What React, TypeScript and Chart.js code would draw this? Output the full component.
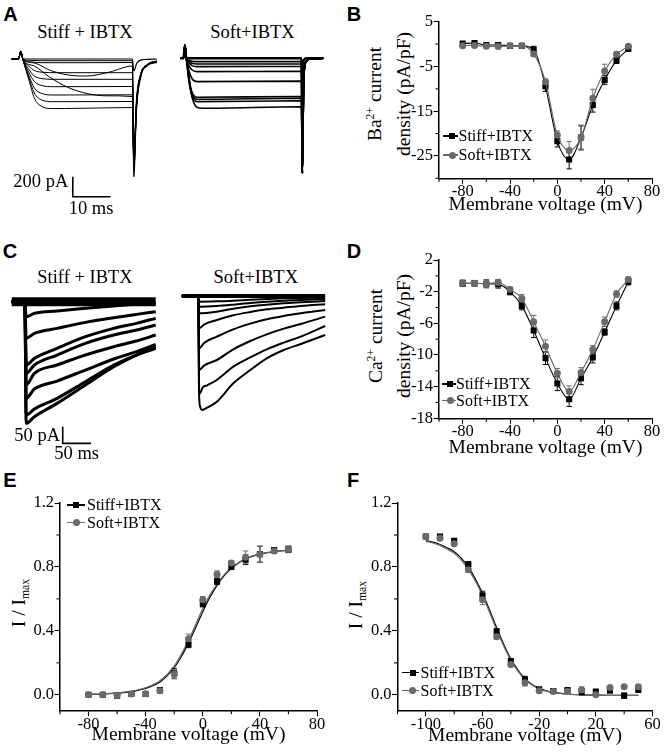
import React, { useEffect, useRef } from "react";
import { Chart, registerables } from "chart.js";
Chart.register(...registerables);

const SERIF = '"Liberation Serif", "Times New Roman", Times, serif';
const SANS = '"Liberation Sans", Arial, Helvetica, sans-serif';
const GRAY = "#6a6a6a";

// ---------------- DATA ----------------
// Panel B: Ba2+ current density (pA/pF)
const ivVoltage = [-80, -70, -60, -50, -40, -30, -20, -10, 0, 10, 20, 30, 40, 50, 60];
const baStiff = [0.1, 0.25, -0.2, -0.2, -0.4, -0.4, -1.2, -9.5, -21.7, -25.8, -20.9, -13.6, -8.0, -3.7, -1.1];
const baStiffErr = [0.3, 0.3, 0.3, 0.3, 0.3, 0.3, 0.7, 1.1, 1.3, 2.1, 2.6, 1.6, 1.0, 0.6, 0.4];
const baSoft = [-0.35, -0.3, -0.5, -0.55, -0.4, -0.4, -2.2, -8.4, -20.3, -23.8, -20.9, -12.1, -6.0, -2.3, -0.5];
const baSoftErr = [0.3, 0.3, 0.3, 0.3, 0.3, 0.3, 0.5, 0.6, 0.9, 2.0, 2.8, 2.0, 1.5, 0.6, 0.4];

// Panel D: Ca2+ current density (pA/pF)
const caStiff = [-0.95, -0.95, -1.0, -1.05, -2.0, -3.8, -6.9, -10.4, -13.6, -15.6, -12.95, -10.3, -7.1, -3.8, -0.75];
const caStiffErr = [0.4, 0.3, 0.5, 0.5, 0.4, 0.5, 0.9, 0.8, 0.9, 0.9, 0.8, 0.7, 0.4, 0.5, 0.4];
const caSoft = [-0.95, -0.95, -1.0, -0.85, -1.7, -2.85, -5.8, -8.9, -12.3, -14.6, -12.2, -9.3, -5.8, -2.3, -0.45];
const caSoftErr = [0.4, 0.3, 0.5, 0.4, 0.3, 0.5, 0.8, 0.8, 0.6, 0.7, 0.6, 0.5, 0.6, 0.4, 0.3];

// Panel E: activation I/Imax
const actStiff = [0.0, 0.0, -0.005, 0.005, 0.005, 0.03, 0.135, 0.315, 0.57, 0.71, 0.8, 0.845, 0.88, 0.905, 0.91];
const actStiffErr = [0.008, 0.008, 0.008, 0.01, 0.01, 0.015, 0.03, 0.02, 0.02, 0.02, 0.015, 0.03, 0.05, 0.015, 0.02];
const actSoft = [0.0, 0.0, -0.003, 0.005, 0.006, 0.025, 0.13, 0.35, 0.595, 0.755, 0.825, 0.86, 0.88, 0.9, 0.91];
const actSoftErr = [0.008, 0.008, 0.008, 0.01, 0.01, 0.015, 0.03, 0.03, 0.02, 0.02, 0.015, 0.04, 0.05, 0.015, 0.02];
const actFitV = [-80, -70, -60, -50, -40, -30, -20, -15, -10, -5, 0, 5, 10, 15, 20, 25, 30, 40, 50, 60];
const actFitStiff = [0.002, 0.005, 0.01, 0.02, 0.04, 0.08, 0.17, 0.24, 0.325, 0.42, 0.52, 0.61, 0.685, 0.745, 0.79, 0.825, 0.85, 0.88, 0.895, 0.905];
const actFitSoft = [0.003, 0.006, 0.012, 0.023, 0.045, 0.088, 0.18, 0.255, 0.34, 0.44, 0.54, 0.625, 0.695, 0.752, 0.795, 0.828, 0.853, 0.882, 0.896, 0.905];

// Panel F: steady-state inactivation I/Imax
const inactVoltage = [-100, -90, -80, -70, -60, -50, -40, -30, -20, -10, 0, 10, 20, 30, 40, 50];
const inactStiff = [0.99, 0.99, 0.963, 0.817, 0.623, 0.397, 0.211, 0.096, 0.035, 0.024, 0.03, 0.02, 0.02, 0.025, -0.005, 0.03];
const inactStiffErr = [0.01, 0.01, 0.01, 0.015, 0.025, 0.015, 0.015, 0.02, 0.01, 0.01, 0.01, 0.02, 0.01, 0.01, 0.015, 0.01];
const inactSoft = [0.99, 0.98, 0.945, 0.782, 0.594, 0.364, 0.19, 0.075, 0.025, 0.02, 0.02, 0.03, 0.0, 0.045, 0.05, 0.05];
const inactSoftErr = [0.01, 0.01, 0.01, 0.015, 0.03, 0.015, 0.015, 0.02, 0.01, 0.01, 0.01, 0.02, 0.01, 0.01, 0.01, 0.01];
const inactFitV = [-100, -95, -90, -85, -80, -75, -70, -65, -60, -55, -50, -45, -40, -35, -30, -25, -20, -15, -10, 0, 10, 20, 30, 40, 50];
const inactFitStiff = [0.965, 0.955, 0.94, 0.92, 0.895, 0.855, 0.8, 0.725, 0.635, 0.53, 0.42, 0.315, 0.225, 0.155, 0.1, 0.065, 0.04, 0.025, 0.015, 0.005, 0.0, -0.002, -0.003, -0.003, -0.003];
const inactFitSoft = [0.96, 0.95, 0.935, 0.912, 0.885, 0.843, 0.785, 0.71, 0.62, 0.515, 0.405, 0.305, 0.215, 0.148, 0.095, 0.062, 0.037, 0.023, 0.013, 0.004, 0.0, -0.002, -0.003, -0.003, -0.003];

// Axis ticks
const ivXTicks = [-80, -40, 0, 40, 80];
const ivXMinor = [-100, -60, -20, 20, 60];
const baYTicks = [5, -5, -15, -25];
const baYMinor = [0, -10, -20, -30];
const caYTicks = [2, -2, -6, -10, -14, -18];
const caYMinor = [0, -4, -8, -12, -16];
const normYTicks = [0, 0.4, 0.8, 1.2];
const normYMinor = [0.2, 0.6, 1.0];
const inactXTicks = [-100, -60, -20, 20, 60];
const inactXMinor = [-120, -80, -40, 0, 40];

// Current traces: [time ms, current pA]
const baTraceStiff = [
  [[0, 0], [1.8, 0], [2.4, 75], [3, 0], [32, 0], [32.4, -120], [33.2, -40], [35, -5], [38.5, 0]],
  [[0, 0], [1.8, 0], [2.4, 75], [3, -4], [5, -14], [8, -17], [32, -17], [32.4, -1100], [33.1, -480], [34.2, -170], [36, -60], [38.5, -20]],
  [[0, 0], [1.8, 0], [2.4, 75], [3, -5], [5, -28], [8, -37], [20, -37], [32, -35], [32.4, -1050], [33.1, -450], [34.2, -160], [36, -55], [38.5, -25]],
  [[0, 0], [1.8, 0], [2.4, 75], [3, -5], [6, -40], [10, -110], [15, -160], [20, -170], [26, -130], [32, -70], [32.4, -900], [33.1, -400], [34.2, -150], [36, -60], [38.5, -30]],
  [[0, 0], [1.8, 0], [2.4, 75], [3, -8], [4.5, -70], [6, -115], [8, -132], [12, -137], [32, -137], [32.4, -1000], [33.1, -440], [34.2, -160], [36, -60], [38.5, -25]],
  [[0, 0], [1.8, 0], [2.4, 75], [3, -8], [6, -70], [10, -180], [15, -285], [20, -345], [25, -368], [32, -375], [32.4, -1177], [33.1, -520], [34.2, -190], [36, -70], [38.5, -35]],
  [[0, 0], [1.8, 0], [2.4, 75], [3, -8], [4.5, -100], [6, -170], [8, -196], [11, -203], [32, -203], [32.4, -1120], [33.1, -490], [34.2, -175], [36, -65], [38.5, -30]],
  [[0, 0], [1.8, 0], [2.4, 75], [3, -10], [4.5, -130], [6, -225], [8, -265], [11, -277], [32, -275], [32.4, -1090], [33.1, -480], [34.2, -170], [36, -60], [38.5, -28]],
  [[0, 0], [1.8, 0], [2.4, 75], [3, -10], [4.5, -160], [6, -290], [8, -345], [11, -360], [32, -358], [32.4, -1060], [33.1, -470], [34.2, -165], [36, -58], [38.5, -25]],
  [[0, 0], [1.8, 0], [2.4, 75], [3, -10], [4.5, -180], [6, -340], [8, -410], [11, -427], [32, -425], [32.4, -1020], [33.1, -450], [34.2, -160], [36, -55], [38.5, -22]],
  [[0, 0], [1.8, 0], [2.4, 75], [3, -10], [4.5, -200], [6, -390], [8, -475], [10.5, -495], [14, -495], [32, -485], [32.4, -980], [33.1, -430], [34.2, -155], [36, -52], [38.5, -20]],
];
const baTraceSoft = [
  [[0, 0], [0.9, 0], [1.3, 130], [1.7, 0], [32.2, 0], [32.45, -250], [32.8, -20], [33.5, 0], [38, 0]],
  [[0, 0], [0.9, 0], [1.3, 130], [1.7, -5], [2.4, -20], [3.2, -30], [4.5, -33], [32.2, -33], [32.45, -1150], [32.8, -240], [33.3, -40], [34.5, -5], [38, 0]],
  [[0, 0], [0.9, 0], [1.3, 130], [1.7, -5], [2.4, -32], [3.2, -50], [4.5, -57], [32.2, -57], [32.45, -1140], [32.8, -240], [33.3, -40], [34.5, -5], [38, 0]],
  [[0, 0], [0.9, 0], [1.3, 130], [1.7, -5], [2.4, -45], [3.2, -73], [4.5, -83], [32.2, -82], [32.45, -1150], [32.8, -245], [33.3, -40], [34.5, -5], [38, 0]],
  [[0, 0], [0.9, 0], [1.3, 130], [1.7, -5], [2.4, -75], [3.2, -117], [4.5, -133], [32.2, -130], [32.45, -1145], [32.8, -250], [33.3, -42], [34.5, -5], [38, 0]],
  [[0, 0], [0.9, 0], [1.3, 130], [1.7, -5], [2.4, -130], [3.2, -205], [4.5, -233], [32.2, -228], [32.45, -1150], [32.8, -250], [33.3, -42], [34.5, -5], [38, 0]],
  [[0, 0], [0.9, 0], [1.3, 130], [1.7, -5], [2.4, -210], [3.2, -340], [4.5, -390], [32.2, -382], [32.45, -1150], [32.8, -255], [33.3, -44], [34.5, -5], [38, 0]],
  [[0, 0], [0.9, 0], [1.3, 130], [1.7, -5], [2.4, -220], [3.2, -360], [4.5, -410], [32.2, -400], [32.45, -1150], [32.8, -255], [33.3, -44], [34.5, -5], [38, 0]],
  [[0, 0], [0.9, 0], [1.3, 130], [1.7, -5], [2.4, -235], [3.2, -380], [4.5, -433], [32.2, -425], [32.45, -1150], [32.8, -258], [33.3, -45], [34.5, -5], [38, 0]],
  [[0, 0], [0.9, 0], [1.3, 130], [1.7, -5], [2.3, -150], [2.9, -330], [3.6, -440], [4.5, -490], [6, -500], [32.2, -485], [32.45, -1150], [32.8, -260], [33.3, -45], [34.5, -5], [38, 0]],
];
const caTraceStiff = [
  [[0, 0], [254, 0]],
  [[0, 0], [23.3, 0], [25.5, -45], [40, -35], [80, -28], [130, -20], [180, -13], [220, -8], [254, -5]],
  [[0, 0], [23.3, 0], [25.5, -110], [40, -95], [80, -80], [130, -62], [180, -48], [220, -38], [254, -30]],
  [[0, 0], [23.3, 0], [25.5, -190], [40, -170], [80, -140], [130, -105], [180, -80], [220, -65], [254, -50]],
  [[0, 0], [23.3, 0], [25.5, -215], [40, -190], [80, -160], [130, -125], [180, -100], [220, -85], [254, -70]],
  [[0, 0], [23.3, 0], [25.5, -250], [40, -215], [80, -190], [130, -160], [180, -135], [220, -118], [254, -100]],
  [[0, 0], [23.3, 0], [25.5, -290], [40, -262], [80, -238], [130, -205], [180, -172], [220, -150], [254, -128]],
  [[0, 0], [23.3, 0], [25.5, -340], [40, -322], [80, -290], [130, -240], [180, -190], [220, -160], [254, -140]],
  [[0, 0], [23.3, 0], [25.5, -365], [40, -345], [80, -305], [130, -250], [180, -195], [220, -160], [254, -135]],
];
const caTraceSoft = [
  [[0, 0], [253, 0]],
  [[0, 0], [29, 0], [31, -17], [62, -16], [91, -14], [121, -11], [150, -9], [180, -7], [210, -6], [253, -5]],
  [[0, 0], [29, 0], [31, -32], [62, -30], [91, -26], [121, -21], [150, -17], [180, -14], [210, -12], [253, -9]],
  [[0, 0], [29, 0], [31, -52], [62, -47], [91, -38], [121, -31], [150, -26], [180, -22], [210, -19], [253, -15]],
  [[0, 0], [29, 0], [31, -97], [40, -85], [62, -72], [91, -58], [121, -48], [150, -40], [180, -35], [210, -30], [253, -25]],
  [[0, 0], [29, 0], [31, -157], [40, -140], [62, -122], [91, -100], [121, -83], [150, -70], [180, -60], [210, -52], [253, -42]],
  [[0, 0], [29, 0], [31, -222], [40, -208], [62, -192], [91, -160], [121, -135], [150, -115], [180, -98], [210, -84], [253, -62]],
  [[0, 0], [29, 0], [31, -294], [33, -290], [37, -275], [45, -268], [62, -252], [91, -212], [121, -184], [150, -160], [180, -140], [210, -122], [253, -90]],
  [[0, 0], [29, 0], [30.5, -290], [33, -335], [36, -342], [45, -335], [62, -317], [91, -262], [121, -222], [150, -187], [180, -162], [210, -144], [253, -117]],
];
const baScaleBar = { pA: 200, ms: 10 };
const caScaleBar = { pA: 50, ms: 50 };

// ---------------- HELPERS ----------------
const pts = (xs: number[], ys: number[]) => xs.map((x, i) => ({ x, y: ys[i] }));
const errPts = (xs: number[], ys: number[], es: number[]) =>
  xs.flatMap((x, i) => [{ x, y: ys[i] - es[i] }, { x, y: ys[i] + es[i] }, { x, y: null }]);

function seriesSets(xs, stiff, stiffErr, soft, softErr, showLine) {
  return [
    { data: pts(xs, soft), showLine, borderColor: GRAY, borderWidth: 1.1, pointStyle: "circle", pointRadius: 3.5, pointBackgroundColor: GRAY, pointBorderColor: GRAY, pointBorderWidth: 0 },
    { data: pts(xs, stiff), showLine, borderColor: "#000", borderWidth: 1.1, pointStyle: "rect", pointRadius: 4.3, pointBackgroundColor: "#000", pointBorderColor: "#000", pointBorderWidth: 0 },
    { data: errPts(xs, soft, softErr), borderColor: GRAY, borderWidth: 1, pointStyle: "line", pointRadius: 2.7, pointBorderColor: GRAY, pointBorderWidth: 1 },
    { data: errPts(xs, stiff, stiffErr), borderColor: "#000", borderWidth: 1, pointStyle: "line", pointRadius: 2.7, pointBorderColor: "#000", pointBorderWidth: 1 },
  ];
}

function XYChart(props: any) {
  const ref = useRef<HTMLCanvasElement>(null);
  const { box } = props;
  useEffect(() => {
    const { area, xr, yr, xTicks, yTicks, xMinor, yMinor, datasets, titleY, yFmt } = props;
    const tickFont = { family: SERIF, size: 16.5, lineHeight: 1 };
    const titleSize = 19.5;
    const minorPlugin = {
      id: "minorTicks",
      afterDraw(chart: any) {
        const ctx = chart.ctx;
        const xs = chart.scales.x;
        const ys = chart.scales.y;
        ctx.save();
        ctx.strokeStyle = "#000";
        ctx.lineWidth = 1.1;
        xMinor.forEach((v: number) => {
          const p = xs.getPixelForValue(v);
          ctx.beginPath();
          ctx.moveTo(p, xs.top);
          ctx.lineTo(p, xs.top + 3.5);
          ctx.stroke();
        });
        yMinor.forEach((v: number) => {
          const p = ys.getPixelForValue(v);
          ctx.beginPath();
          ctx.moveTo(ys.right, p);
          ctx.lineTo(ys.right - 3.5, p);
          ctx.stroke();
        });
        ctx.restore();
      },
    };
    const common = {
      grid: { display: true, drawOnChartArea: false, drawTicks: true, tickLength: 5.5, tickColor: "#000", tickWidth: 1.1 },
      border: { display: true, color: "#000", width: 1.5 },
    };
    const chart = new Chart(ref.current as HTMLCanvasElement, {
      type: "line",
      data: { datasets },
      options: {
        responsive: false,
        maintainAspectRatio: false,
        animation: false,
        devicePixelRatio: 1,
        events: [],
        layout: { padding: { left: 0, bottom: 0, top: area.top - box.top, right: box.left + box.width - area.right } },
        plugins: { legend: { display: false }, tooltip: { enabled: false } },
        elements: { line: { cubicInterpolationMode: "monotone" } },
        scales: {
          x: {
            type: "linear",
            position: "bottom",
            min: xr[0],
            max: xr[1],
            afterBuildTicks: (s: any) => { s.ticks = xTicks.map((v: number) => ({ value: v })); },
            afterFit: (s: any) => { s.height = box.top + box.height - area.bottom; },
            ...common,
            ticks: { color: "#000", font: tickFont, padding: 0, maxRotation: 0, autoSkip: false, callback: (v: any) => String(v) },
            title: {
              display: true,
              text: "Membrane voltage (mV)",
              color: "#000",
              font: { family: SERIF, size: titleSize, lineHeight: 1.2 },
              padding: { top: 0, bottom: box.top + box.height - titleY - titleSize * 0.6 },
            },
          },
          y: {
            type: "linear",
            position: "left",
            min: yr[0],
            max: yr[1],
            afterBuildTicks: (s: any) => { s.ticks = yTicks.map((v: number) => ({ value: v })); },
            afterFit: (s: any) => { s.width = area.left - box.left; },
            ...common,
            ticks: { color: "#000", font: tickFont, padding: 0.5, autoSkip: false, callback: (v: any) => yFmt(v) },
          },
        },
      },
      plugins: [minorPlugin],
    } as any);
    return () => chart.destroy();
  }, []);
  return (
    <canvas
      ref={ref}
      width={box.width}
      height={box.height}
      style={{ position: "absolute", left: box.left, top: box.top, width: box.width, height: box.height }}
    />
  );
}

function TraceChart(props: any) {
  const ref = useRef<HTMLCanvasElement>(null);
  const { box } = props;
  useEffect(() => {
    const { xr, yr, traces, width, baseWidth, bar } = props;
    const datasets = traces.map((tr: number[][], i: number) => ({
      data: tr,
      borderColor: "#000",
      borderWidth: i === 0 ? baseWidth : width,
      borderJoinStyle: "round",
      pointRadius: 0,
      cubicInterpolationMode: "monotone",
    }));
    datasets.push({ data: bar, borderColor: "#000", borderWidth: 1.6, borderJoinStyle: "miter", pointRadius: 0, tension: 0 } as any);
    const chart = new Chart(ref.current as HTMLCanvasElement, {
      type: "line",
      data: { datasets },
      options: {
        responsive: false,
        animation: false,
        devicePixelRatio: 1,
        events: [],
        layout: { padding: 0 },
        plugins: { legend: { display: false }, tooltip: { enabled: false } },
        scales: {
          x: { type: "linear", display: false, min: xr[0], max: xr[1] },
          y: { type: "linear", display: false, min: yr[0], max: yr[1] },
        },
      },
    } as any);
    return () => chart.destroy();
  }, []);
  return (
    <canvas
      ref={ref}
      width={box.width}
      height={box.height}
      style={{ position: "absolute", left: box.left, top: box.top, width: box.width, height: box.height }}
    />
  );
}

function T({ x, y, size, children, anchor = "middle", bold = false, sans = false }: any) {
  const tx = anchor === "middle" ? "-50%" : anchor === "end" ? "-100%" : "0";
  return (
    <div
      style={{
        position: "absolute",
        left: x,
        top: y,
        transform: `translate(${tx},-50%)`,
        fontFamily: sans ? SANS : SERIF,
        fontSize: size,
        fontWeight: bold ? 700 : 400,
        lineHeight: 1,
        whiteSpace: "nowrap",
        color: "#000",
      }}
    >
      {children}
    </div>
  );
}

function VTitle({ x, y, size, gap, children }: any) {
  return (
    <div
      style={{
        position: "absolute",
        left: x,
        top: y,
        transform: "translate(-50%,-50%) rotate(-90deg)",
        fontFamily: SERIF,
        fontSize: size,
        lineHeight: `${gap}px`,
        whiteSpace: "nowrap",
        textAlign: "center",
        color: "#000",
      }}
    >
      {children}
    </div>
  );
}

const Sup = ({ children }: any) => (
  <span style={{ fontSize: "0.6em", position: "relative", top: "-0.6em" }}>{children}</span>
);
const Sub = ({ children }: any) => (
  <span style={{ fontSize: "0.6em", position: "relative", top: "0.35em" }}>{children}</span>
);

function Legend({ rows, x1, x2, mx, tx }: any) {
  return (
    <>
      {rows.map((r: any, i: number) => {
        const color = r.kind === "stiff" ? "#000" : GRAY;
        const size = r.kind === "stiff" ? 6 : 7;
        return (
          <React.Fragment key={i}>
            <div style={{ position: "absolute", left: x1, top: r.y - 0.6, width: x2 - x1, height: 1.2, background: color }} />
            <div
              style={{
                position: "absolute",
                left: mx - size / 2,
                top: r.y - size / 2,
                width: size,
                height: size,
                background: color,
                borderRadius: r.kind === "stiff" ? 0 : "50%",
              }}
            />
            <T x={tx} y={r.y} size={16} anchor="start">{r.text}</T>
          </React.Fragment>
        );
      })}
    </>
  );
}

const intFmt = (v: number) => String(v);
const oneDec = (v: number) => v.toFixed(1);

export default function App() {
  const baBarAnchor = [16.2, -1177];
  const caBarAnchor = [90, -375];
  const baBar = [
    [baBarAnchor[0], baBarAnchor[1]],
    [baBarAnchor[0], baBarAnchor[1] - baScaleBar.pA],
    [baBarAnchor[0] + baScaleBar.ms, baBarAnchor[1] - baScaleBar.pA],
  ];
  const caBar = [
    [caBarAnchor[0], caBarAnchor[1]],
    [caBarAnchor[0], caBarAnchor[1] - caScaleBar.pA],
    [caBarAnchor[0] + caScaleBar.ms, caBarAnchor[1] - caScaleBar.pA],
  ];

  const legendRows = (y1: number, y2: number) => [
    { y: y1, kind: "stiff", text: "Stiff+IBTX" },
    { y: y2, kind: "soft", text: "Soft+IBTX" },
  ];

  const fitSets = (xs: number[], stiff: number[], soft: number[]) => [
    { data: pts(xs, soft), borderColor: GRAY, borderWidth: 1.2, pointRadius: 0 },
    { data: pts(xs, stiff), borderColor: "#000", borderWidth: 1.2, pointRadius: 0 },
  ];

  return (
    <div style={{ position: "absolute", left: 0, top: 0, width: 664, height: 752, background: "#fff", overflow: "hidden" }}>
      {/* Panel letters */}
      <T x={10.5} y={14} size={20} bold sans>A</T>
      <T x={354} y={14} size={20} bold sans>B</T>
      <T x={10} y={250.5} size={20} bold sans>C</T>
      <T x={354} y={250.5} size={20} bold sans>D</T>
      <T x={10} y={480} size={20} bold sans>E</T>
      <T x={353} y={480} size={20} bold sans>F</T>

      {/* Panel A traces */}
      <T x={85} y={31.7} size={18.5}>Stiff + IBTX</T>
      <T x={252.5} y={31.7} size={18.5}>Soft+IBTX</T>
      <TraceChart box={{ left: 0, top: 40, width: 165, height: 175 }} xr={[-3.103, 40.66]} yr={[-1560, 190]} traces={baTraceStiff} width={1} baseWidth={1.2} bar={baBar} />
      <TraceChart box={{ left: 170, top: 40, width: 165, height: 175 }} xr={[-2.653, 41.11]} yr={[-1567, 183]} traces={baTraceSoft} width={1.6} baseWidth={2.4} bar={[]} />
      <T x={68.3} y={180.5} size={18.5} anchor="end">200 pA</T>
      <T x={91} y={208.3} size={18.5}>10 ms</T>

      {/* Panel C traces */}
      <T x={85} y={276.7} size={18.5}>Stiff + IBTX</T>
      <T x={255.8} y={276.7} size={18.5}>Soft+IBTX</T>
      <TraceChart box={{ left: 0, top: 280, width: 165, height: 180 }} xr={[-20.63, 270.37]} yr={[-474.9, 65.1]} traces={caTraceStiff} width={3} baseWidth={9} bar={caBar} />
      <TraceChart box={{ left: 170, top: 280, width: 165, height: 180 }} xr={[-20.63, 270.37]} yr={[-492, 48]} traces={caTraceSoft} width={2} baseWidth={4} bar={[]} />
      <T x={60} y={435} size={18.5} anchor="end">50 pA</T>
      <T x={76.7} y={452.5} size={18.5}>50 ms</T>

      {/* Panel B */}
      <VTitle x={388.7} y={94} size={19.5} gap={26}>
        <div>Ba<Sup>2+</Sup> current</div>
        <div>density (pA/pF)</div>
      </VTitle>
      <XYChart
        box={{ left: 400, top: 0, width: 264, height: 226 }}
        area={{ left: 439, top: 21.7, right: 652, bottom: 178.3 }}
        xr={[-100, 80]} yr={[-30, 5]}
        xTicks={ivXTicks} yTicks={baYTicks} xMinor={ivXMinor} yMinor={baYMinor}
        yFmt={intFmt} titleY={205}
        datasets={seriesSets(ivVoltage, baStiff, baStiffErr, baSoft, baSoftErr, true)}
      />
      <Legend rows={legendRows(136, 155)} x1={443} x2={458} mx={452} tx={458.5} />

      {/* Panel D */}
      <VTitle x={389.2} y={336} size={19.5} gap={25}>
        <div>Ca<Sup>2+</Sup> current</div>
        <div>density (pA/pF)</div>
      </VTitle>
      <XYChart
        box={{ left: 400, top: 238, width: 264, height: 228 }}
        area={{ left: 439, top: 260, right: 652, bottom: 418.3 }}
        xr={[-100, 80]} yr={[-18, 2]}
        xTicks={ivXTicks} yTicks={caYTicks} xMinor={ivXMinor} yMinor={caYMinor}
        yFmt={intFmt} titleY={448}
        datasets={seriesSets(ivVoltage, caStiff, caStiffErr, caSoft, caSoftErr, true)}
      />
      <Legend rows={legendRows(384, 400.5)} x1={441.5} x2={455.5} mx={450} tx={456} />

      {/* Panel E */}
      <VTitle x={20} y={603} size={19.5} gap={20}>
        <div>I / I<Sub>max</Sub></div>
      </VTitle>
      <XYChart
        box={{ left: 22, top: 478, width: 318, height: 274 }}
        area={{ left: 60, top: 503, right: 317, bottom: 710.8 }}
        xr={[-100, 80]} yr={[-0.1, 1.2]}
        xTicks={ivXTicks} yTicks={normYTicks} xMinor={ivXMinor} yMinor={normYMinor}
        yFmt={oneDec} titleY={735}
        datasets={[
          ...seriesSets(ivVoltage, actStiff, actStiffErr, actSoft, actSoftErr, false),
          ...fitSets(actFitV, actFitStiff, actFitSoft),
        ]}
      />
      <Legend rows={legendRows(505, 522.8)} x1={66.5} x2={85} mx={76} tx={87} />

      {/* Panel F */}
      <VTitle x={356.7} y={605} size={19.5} gap={20}>
        <div>I / I<Sub>max</Sub></div>
      </VTitle>
      <XYChart
        box={{ left: 362, top: 478, width: 302, height: 274 }}
        area={{ left: 397.5, top: 503, right: 652.5, bottom: 710.8 }}
        xr={[-120, 60]} yr={[-0.1, 1.2]}
        xTicks={inactXTicks} yTicks={normYTicks} xMinor={inactXMinor} yMinor={normYMinor}
        yFmt={oneDec} titleY={736}
        datasets={[
          ...seriesSets(inactVoltage, inactStiff, inactStiffErr, inactSoft, inactSoftErr, false),
          ...fitSets(inactFitV, inactFitStiff, inactFitSoft),
        ]}
      />
      <Legend rows={legendRows(672.8, 690.8)} x1={401.5} x2={418.5} mx={412.5} tx={420.5} />
    </div>
  );
}
